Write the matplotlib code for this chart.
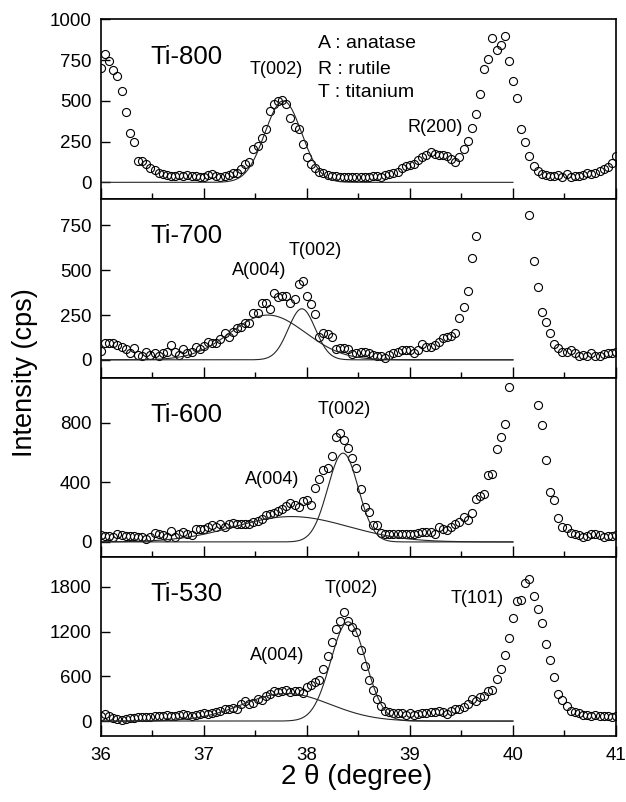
import numpy as np
import matplotlib
matplotlib.use('Agg')
import matplotlib.pyplot as plt

plt.rcParams['font.family'] = ['Liberation Sans', 'DejaVu Sans']

# scan step 0.04 degree from 36 to 41
two_theta = 36 + 0.04 * np.arange(126)
nan = np.nan

ti800 = [700, 790, 745, 690, 650, 560, 430, 305, 245, 130,
         130, 110, 85, 75, 60, 50, 45, 40, 40, 45,
         40, 42, 38, 40, 35, 30, 45, 50, 40, 35,
         40, 45, 55, 55, 80, 110, 125, 205, 225, 275,
         330, 440, 480, 500, 505, 480, 395, 340, 325, 235,
         155, 110, 85, 65, 55, 45, 40, 38, 35, 35,
         30, 35, 30, 32, 35, 30, 38, 40, 35, 45,
         50, 55, 65, 90, 100, 108, 112, 135, 153, 165,
         185, 175, 170, 168, 160, 145, 125, 155, 205, 255,
         335, 420, 540, 695, 755, 885, 815, 845, 900, 745,
         620, 515, 325, 250, 160, 100, 70, 50, 45, 40,
         40, 45, 35, 50, 35, 40, 40, 45, 55, 50,
         55, 70, 80, 95, 120, 160]

ti700 = [50, 93, 93, 93, 80, 74, 59, 37, 65, 28,
         22, 46, 28, 37, 19, 37, 46, 80, 41, 28,
         61, 37, 46, 70, 59, 78, 102, 93, 96, 115,
         148, 130, 157, 176, 185, 204, 207, 259, 263, 319,
         319, 281, 374, 348, 356, 357, 315, 337, 426, 439,
         356, 311, 256, 130, 148, 144, 130, 61, 65, 65,
         59, 33, 37, 46, 46, 37, 28, 19, 22, 9,
         28, 37, 46, 56, 56, 56, 37, 56, 89, 74,
         74, 83, 102, 120, 130, 135, 148, 231, 296, 385,
         570, 689, nan, nan, nan, nan, nan, nan, nan, nan,
         nan, nan, nan, nan, 809, 550, 407, 269, 213, 148,
         89, 65, 43, 46, 56, 37, 22, 28, 24, 37,
         19, 24, 33, 37, 40, 46]

ti600 = [45, 38, 42, 34, 51, 45, 38, 42, 38, 34,
         34, 22, 34, 60, 51, 45, 34, 74, 34, 56,
         67, 51, 45, 85, 89, 89, 101, 112, 101, 118,
         101, 118, 127, 123, 118, 123, 118, 134, 141, 156,
         179, 190, 194, 208, 224, 239, 262, 246, 235, 273,
         279, 250, 362, 420, 481, 498, 574, 700, 731, 686,
         626, 563, 498, 358, 235, 199, 116, 116, 60, 56,
         51, 56, 51, 56, 51, 56, 51, 60, 67, 67,
         67, 56, 101, 89, 78, 101, 118, 134, 168, 145,
         194, 291, 306, 320, 447, 458, 621, 700, 787, 1035,
         nan, nan, nan, nan, nan, nan, 916, 782, 548, 335,
         284, 163, 101, 96, 60, 51, 45, 34, 38, 56,
         51, 45, 34, 38, 40, 45]

ti530 = [67, 89, 67, 44, 31, 13, 22, 44, 44, 58,
         53, 58, 53, 62, 67, 67, 76, 67, 67, 76,
         93, 80, 67, 80, 89, 102, 89, 111, 120, 133,
         156, 164, 178, 164, 222, 267, 222, 244, 289, 280,
         333, 369, 409, 387, 400, 422, 387, 400, 409, 380,
         453, 489, 520, 556, 698, 867, 1053, 1231, 1347, 1467,
         1347, 1267, 1200, 956, 742, 556, 413, 289, 200, 133,
         120, 111, 102, 102, 80, 102, 76, 89, 111, 111,
         120, 120, 133, 120, 98, 133, 156, 156, 191, 222,
         289, 267, 320, 342, 400, 413, 564, 698, 889, 1111,
         1378, 1613, 1622, 1844, 1902, 1675, 1498, 1320, 1035, 822,
         591, 369, 276, 200, 133, 120, 102, 80, 80, 67,
         80, 67, 67, 67, 60, 67]

# fitted peaks: (centre, height, fwhm)
fit800 = [(37.77, 500, 0.42)]
fit700 = [(37.62, 250, 0.86), (37.95, 285, 0.31)]
fit600 = [(37.85, 170, 1.30), (38.35, 595, 0.35)]
fit530 = [(37.80, 370, 1.00), (38.40, 1330, 0.40)]

names = ['Ti-800', 'Ti-700', 'Ti-600', 'Ti-530']
series = [ti800, ti700, ti600, ti530]
fits = [fit800, fit700, fit600, fit530]
ylims = [(-100, 1000), (-100, 900), (-100, 1100), (-200, 2200)]
yticks = [[0, 250, 500, 750, 1000], [0, 250, 500, 750],
          [0, 400, 800], [0, 600, 1200, 1800]]

# peak labels: (text, x, y)
labels = [
    [('T(002)', 37.70, 690), ('R(200)', 39.24, 335)],
    [('A(004)', 37.54, 500), ('T(002)', 38.08, 610)],
    [('A(004)', 37.66, 415), ('T(002)', 38.36, 890)],
    [('A(004)', 37.71, 885), ('T(002)', 38.43, 1775), ('T(101)', 39.65, 1640)],
]

fig = plt.figure(figsize=(6.26, 8.02), dpi=100)
gs = fig.add_gridspec(4, 1, left=0.1613, right=0.984, top=0.9757,
                      bottom=0.0823, hspace=0)

xfit = np.linspace(36, 40, 400)
for k in range(4):
    ax = fig.add_subplot(gs[k])
    ax.plot(two_theta, series[k], 'o', ms=5.8, mfc='none', mec='black',
            mew=0.8)
    for c, h, w in fits[k]:
        s = w / 2.3548
        ax.plot(xfit, h * np.exp(-0.5 * ((xfit - c) / s) ** 2),
                color='0.15', lw=0.8)
    ax.set_xlim(36, 41)
    ax.set_ylim(*ylims[k])
    ax.set_yticks(yticks[k])
    ax.set_xticks([36, 37, 38, 39, 40, 41])
    ax.set_xticks(np.arange(36.5, 41, 1.0), minor=True)
    ax.tick_params(axis='x', which='major', direction='in', length=8,
                   width=1, labelsize=13.5, pad=8, top=False)
    ax.tick_params(axis='x', which='minor', direction='in', length=4.5,
                   width=1, top=False)
    ax.tick_params(axis='y', direction='in', length=6.5, width=1,
                   labelsize=13.5, right=False, pad=7)
    for sp in ax.spines.values():
        sp.set_linewidth(1.2)
    if k < 3:
        ax.tick_params(axis='x', labelbottom=False)
    ax.text(0.095, 0.79, names[k], transform=ax.transAxes, fontsize=18.5,
            va='center', ha='left')
    for t, lx, ly in labels[k]:
        ax.text(lx, ly, t, fontsize=13, ha='center', va='center')
    if k == 0:
        ax.text(38.11, 850, 'A : anatase', fontsize=14, va='center')
        ax.text(38.11, 694, 'R : rutile', fontsize=14, va='center')
        ax.text(38.11, 551, 'T : titanium', fontsize=14, va='center')

fig.text(0.04, 0.535, 'Intensity (cps)', rotation=90, fontsize=19.5,
         ha='center', va='center')
fig.text(0.57, 0.031, '2 θ (degree)', fontsize=20, ha='center',
         va='center')

fig.savefig('out.png', dpi=100)
